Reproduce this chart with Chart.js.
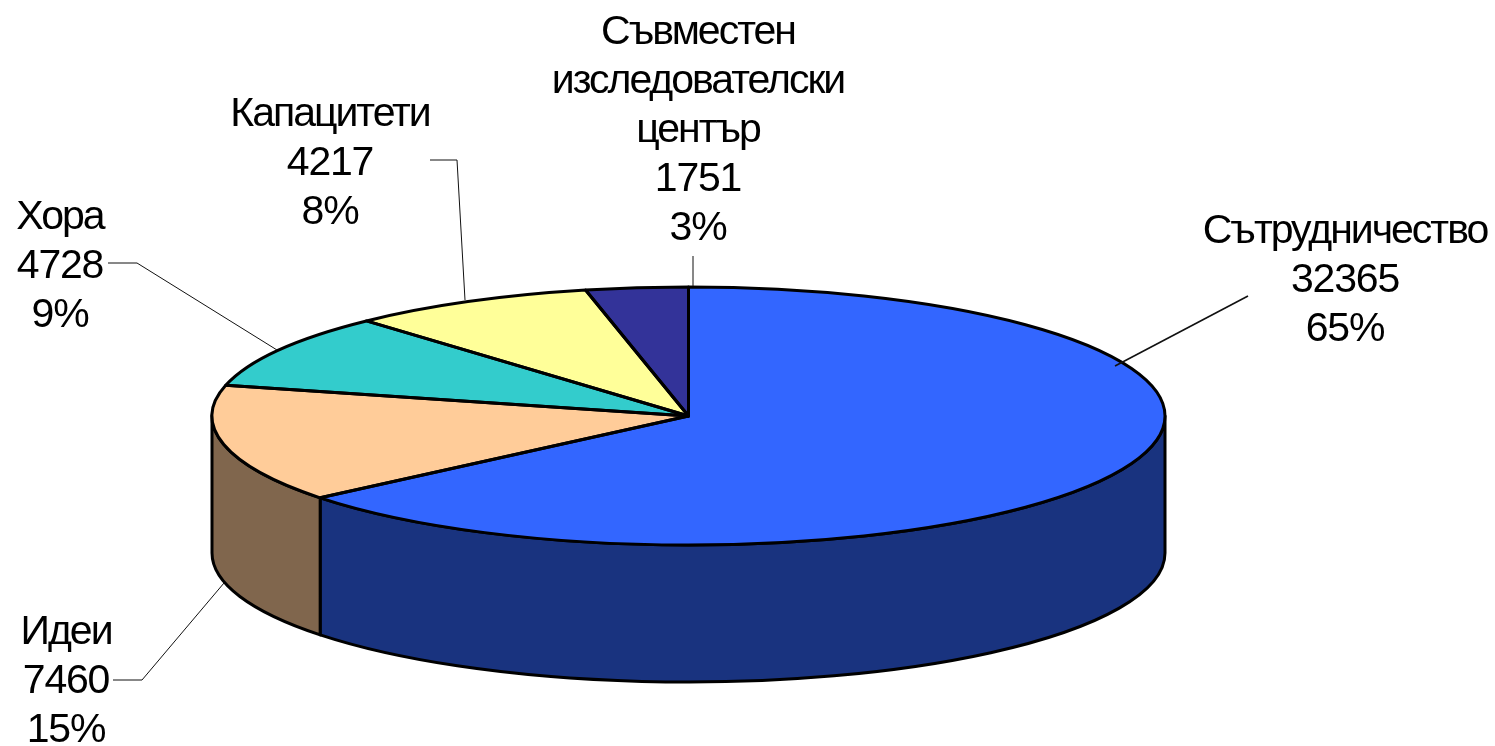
<!DOCTYPE html>
<html>
<head>
<meta charset="utf-8">
<title>Pie</title>
<style>html,body{margin:0;padding:0;background:#fff}canvas{display:block}</style>
<script src="https://cdn.jsdelivr.net/npm/chart.js@4/dist/chart.umd.min.js"></script>
</head>
<body>
<canvas id="c" width="1495" height="746"></canvas>
<script>
const categories = ["Сътрудничество", "Идеи", "Хора", "Капацитети", "Съвместен изследователски център"];
const values = [32365, 7460, 4728, 4217, 1751];
const percents = ["65%", "15%", "9%", "8%", "3%"];
const topColors = ["#3366FF", "#FFCC99", "#33CCCC", "#FFFF99", "#333399"];
const wallColors = ["#19337F", "#80664D", "#196666", "#80804D", "#19194D"];
const labelLines = [["Сътрудничество"], ["Идеи"], ["Хора"], ["Капацитети"], ["Съвместен", "изследователски", "център"]];
const labelPos = [[1345, 243], [66, 644], [60, 229], [330, 126], [698, 44]];
const leaders = [
  [[1248, 296], [1115, 366]],
  [[113, 680], [142, 680], [224, 583]],
  [[108, 263], [137, 263], [277, 350]],
  [[430, 160], [457, 160], [465, 300]],
  [[693, 256], [693, 286]]
];
const leaderWidths = [1.6, 1, 1, 1, 1];
const pieCx = 688.5, pieCy = 416, pieRx = 476.5, pieRy = 129, pieDepth = 137;
const lineHeight = 49;

const pie3d = {
  id: "pie3d",
  beforeDatasetsDraw(chart) {
    const ctx = chart.ctx, arcs = chart.getDatasetMeta(0).data;
    ctx.save();
    ctx.lineJoin = "round";
    ctx.lineWidth = 3;
    ctx.strokeStyle = "#000";
    arcs.forEach((a, i) => {
      const s = Math.max(a.startAngle, 0), e = Math.min(a.endAngle, Math.PI);
      if (e <= s) return;
      ctx.beginPath();
      ctx.ellipse(pieCx, pieCy, pieRx, pieRy, 0, s, e);
      ctx.ellipse(pieCx, pieCy + pieDepth, pieRx, pieRy, 0, e, s, true);
      ctx.closePath();
      ctx.fillStyle = wallColors[i];
      ctx.fill();
      ctx.stroke();
    });
    ctx.restore();
    const a0 = arcs[0], k = a0.outerRadius;
    ctx.save();
    ctx.translate(pieCx, pieCy);
    ctx.scale(pieRx / k, pieRy / k);
    ctx.translate(-a0.x, -a0.y);
  },
  afterDatasetsDraw(chart) {
    const ctx = chart.ctx, arcs = chart.getDatasetMeta(0).data;
    ctx.restore();
    ctx.save();
    ctx.lineJoin = "round";
    ctx.lineWidth = 3;
    ctx.strokeStyle = "#000";
    arcs.forEach(a => {
      ctx.beginPath();
      ctx.moveTo(pieCx, pieCy);
      ctx.ellipse(pieCx, pieCy, pieRx, pieRy, 0, a.startAngle, a.endAngle);
      ctx.closePath();
      ctx.stroke();
    });
    ctx.strokeStyle = "#111";
    leaders.forEach((pts, i) => {
      ctx.lineWidth = leaderWidths[i];
      ctx.beginPath();
      pts.forEach((p, j) => j ? ctx.lineTo(p[0], p[1]) : ctx.moveTo(p[0], p[1]));
      ctx.stroke();
    });
    ctx.fillStyle = "#000";
    ctx.font = '41px "Liberation Sans"';
    ctx.textAlign = "center";
    ctx.textBaseline = "alphabetic";
    labelLines.forEach((lines, i) => {
      const x = labelPos[i][0], y = labelPos[i][1];
      ctx.letterSpacing = "-2px";
      lines.forEach((t, j) => ctx.fillText(t, x, y + j * lineHeight));
      ctx.letterSpacing = "-1.2px";
      ctx.fillText(String(values[i]), x, y + lines.length * lineHeight);
      ctx.fillText(percents[i], x, y + (lines.length + 1) * lineHeight);
    });
    ctx.restore();
  }
};

new Chart(document.getElementById("c"), {
  type: "pie",
  data: {
    labels: categories,
    datasets: [{ data: values, backgroundColor: topColors, borderWidth: 0, hoverOffset: 0 }]
  },
  options: {
    responsive: false,
    animation: false,
    events: [],
    layout: { padding: 0 },
    plugins: { legend: { display: false }, tooltip: { enabled: false }, title: { display: false } }
  },
  plugins: [pie3d]
});
</script>
</body>
</html>
